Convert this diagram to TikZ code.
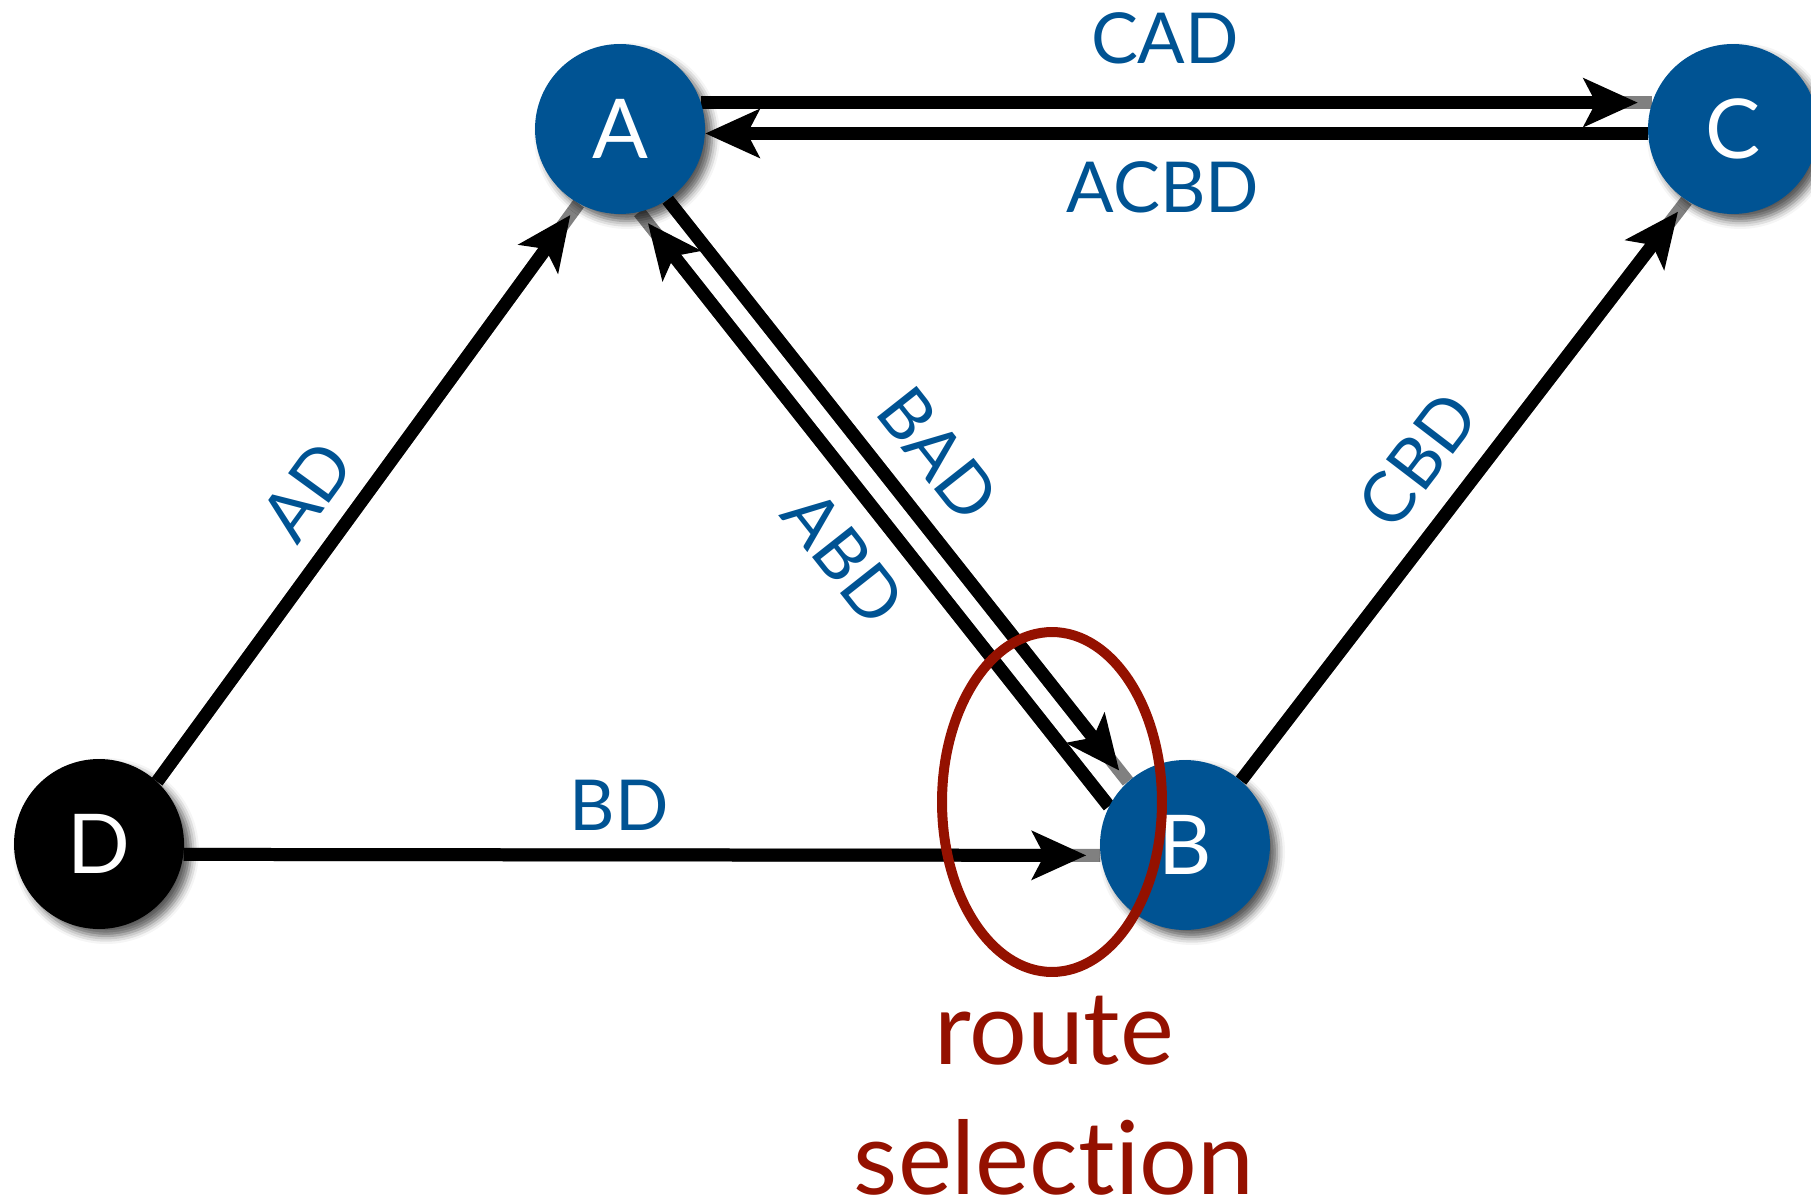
\documentclass[tikz,border=0pt]{standalone}
\usepackage{fontspec}
\setmainfont{Lato}[Ligatures=NoCommon]
\usetikzlibrary{arrows.meta,shadows.blur,shapes.geometric,backgrounds}

\definecolor{routerblue}{RGB}{0,83,147}
\definecolor{selred}{RGB}{148,17,0}

\begin{document}
\begin{tikzpicture}[x=0.02cm, y=-0.02cm,
    router/.style={circle, fill=routerblue, text=white, minimum size=3.4cm,
      inner sep=0pt, font=\fontsize{47}{56}\selectfont,
      blur shadow={shadow xshift=0.14cm, shadow yshift=-0.14cm,
        shadow blur radius=0.16cm, shadow opacity=65}},
    route/.style={draw=black, line width=0.26cm, shorten >=0.28cm,
      -{Stealth[length=1.08cm, width=0.96cm, inset=0.24cm]}},
    stub/.style={draw=black!50, line width=0.26cm},
    path label/.style={text=routerblue, inner sep=0pt,
      font=\fontsize{40}{48}\selectfont}
  ]
    \useasboundingbox (0,0) rectangle (1811,1202);

    % routers
    \node[router]             (A) at (620,129)  {A};
    \node[router]             (C) at (1733,129) {C};
    \node[router]             (B) at (1185,845) {B};
    \node[router, fill=black] (D) at (99,844)   {D};

    % route announcements
    \begin{pgfonlayer}{background}
      % D -> A
      \path[stub]  (D.47) -- (A.241);
      \path[route] (D.47) -- (A.241);
      % D -> B
      \path[stub]  (D.-7) -- (B.187);
      \path[route] (D.-7) -- (B.187);
      % A -> C
      \path[stub]  (A.18) -- (C.162);
      \path[route] (A.18) -- (C.162);
      % C -> A
      \path[route, shorten >=0pt] (C.183) -- (A.-3);
      % A -> B
      \path[stub]  (A.-56) -- (B.132);
      \path[route] (A.-56) -- (B.132);
      % B -> A
      \path[stub]  (B.153) -- (A.-77);
      \path[route] (B.153) -- (A.-77);
      % B -> C
      \path[stub]  (B.49) -- (C.237);
      \path[route] (B.49) -- (C.237);
    \end{pgfonlayer}

    % path labels
    \node[path label] (cad)  at (1165,38)  {CAD};
    \node[path label] (acbd) at (1163,187) {ACBD};
    \node[path label] (bd)   at (619,805)  {BD};
    \node[path label, rotate=54]    (ad)  at (307,491)  {AD};
    \node[path label, rotate=52.6]  (cbd) at (1418,460) {CBD};
    \node[path label, rotate=-51.7] (bad) at (938,454)  {BAD};
    \node[path label, rotate=-51.7] (abd) at (844,557)  {ABD};

    % route selection at B
    \node[ellipse, draw=selred, line width=0.2cm, minimum width=4.4cm,
      minimum height=6.8cm, inner sep=0pt] (sel) at (1052,802) {};
    \node[text=selred, align=center, anchor=north, inner sep=0pt,
      font=\fontsize{58}{74}\selectfont] (seltext) at (1054,996)
      {route\\selection};
\end{tikzpicture}
\end{document}
